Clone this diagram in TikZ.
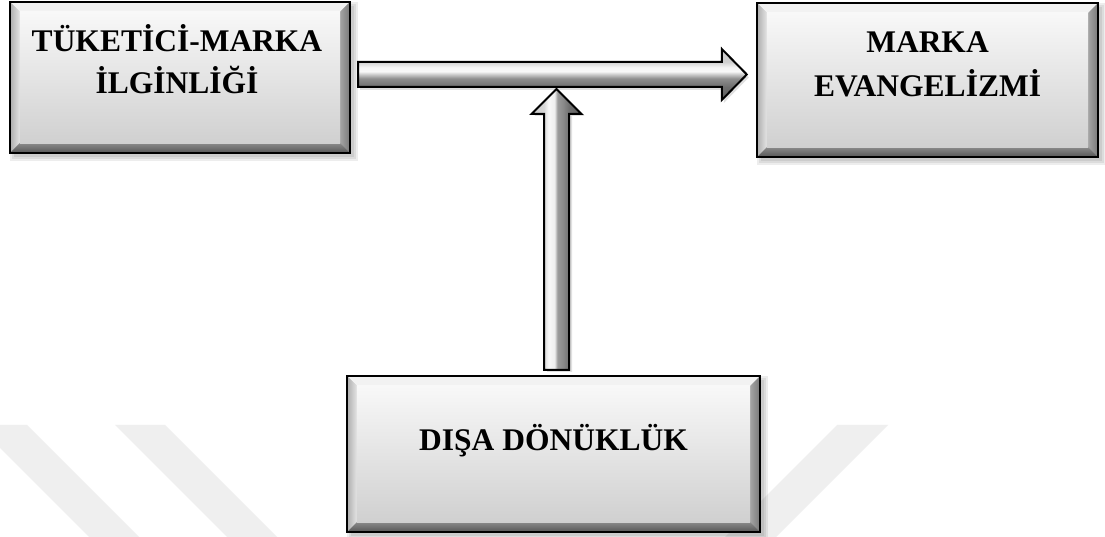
\documentclass[tikz,border=0pt]{standalone}
\usepackage{fontspec}
\setmainfont{Liberation Serif}
\usetikzlibrary{calc}
\definecolor{wm}{HTML}{EFEFEF}
\definecolor{c5a}{HTML}{5A5A5A}
\definecolor{c6e}{HTML}{6E6E6E}
\definecolor{c70}{HTML}{707070}
\definecolor{c88}{HTML}{888888}
\definecolor{c8e}{HTML}{8E8E8E}
\definecolor{c9a}{HTML}{9A9A9A}
\definecolor{cc8}{HTML}{C8C8C8}
\definecolor{cd0}{HTML}{D0D0D0}
\definecolor{cd8}{HTML}{D8D8D8}
\definecolor{cee}{HTML}{EEEEEE}
\definecolor{cf4}{HTML}{F4F4F4}
\definecolor{cf8}{HTML}{F8F8F8}
\definecolor{bevtop}{HTML}{F2F2F2}
\definecolor{bevlo}{HTML}{ACACAC}
\definecolor{bevli}{HTML}{E4E4E4}
\definecolor{bevri}{HTML}{A4A4A4}
\definecolor{bevro}{HTML}{787878}
\definecolor{bevbi}{HTML}{8A8A8A}
\definecolor{bevbo}{HTML}{555555}
\definecolor{facetop}{HTML}{F8F8F8}
\definecolor{facebot}{HTML}{D0D0D0}
\pgfdeclareverticalshading{harrowsh}{100bp}{color(0bp)=(c5a); color(25bp)=(c5a); color(37.7bp)=(c6e); color(46bp)=(c8e); color(50bp)=(cc8); color(53bp)=(cf8); color(57bp)=(cf4); color(62.3bp)=(cd0); color(75bp)=(cc8); color(100bp)=(cc8)}
\pgfdeclarehorizontalshading{varrowsh}{100bp}{color(0bp)=(cc8); color(25bp)=(cc8); color(37.5bp)=(cd8); color(42bp)=(cf8); color(48bp)=(cee); color(51bp)=(c9a); color(57bp)=(c88); color(62.5bp)=(c70); color(75bp)=(c5a); color(100bp)=(c5a)}
\tikzset{
  boxnode/.style={rectangle, inner sep=0pt},
  lbl/.style={font=\bfseries\fontsize{31.5}{42}\selectfont, align=center, inner sep=0pt, anchor=base},
  arrowline/.style={draw=black, line width=2pt, line join=miter},
  harrowpath/.style={insert path={($(hs)+(0,12.5)$) -- ($(ht)+(-25,12.5)$) -- ($(ht)+(-25,25.5)$) -- (ht) -- ($(ht)+(-25,-25.5)$) -- ($(ht)+(-25,-12.5)$) -- ($(hs)+(0,-12.5)$) -- cycle}},
  varrowpath/.style={insert path={($(vs)+(-12.5,0)$) -- ($(vt)+(-12.5,-25)$) -- ($(vt)+(-25,-25)$) -- (vt) -- ($(vt)+(25,-25)$) -- ($(vt)+(12.5,-25)$) -- ($(vs)+(12.5,0)$) -- cycle}}
}
\newcommand\bevelbox[1]{%
  \foreach \s in {0,2,4}{\fill[black,opacity=0.07] ($(#1.south west)+(4-\s,-4-\s)$) rectangle ($(#1.north east)+(4+\s,-4+\s)$);}
  \fill[bevtop] (#1.north west) -- (#1.north east) -- ($(#1.north east)+(-10,-10)$) -- ($(#1.north west)+(10,-10)$) -- cycle;
  \shade[left color=bevlo, right color=bevli] (#1.north west) -- ($(#1.north west)+(10,-10)$) -- ($(#1.south west)+(10,10)$) -- (#1.south west) -- cycle;
  \shade[left color=bevri, right color=bevro] (#1.north east) -- (#1.south east) -- ($(#1.south east)+(-10,10)$) -- ($(#1.north east)+(-10,-10)$) -- cycle;
  \shade[top color=bevbi, bottom color=bevbo] (#1.south west) -- ($(#1.south west)+(10,10)$) -- ($(#1.south east)+(-10,10)$) -- (#1.south east) -- cycle;
  \shade[top color=facetop, bottom color=facebot] ($(#1.south west)+(10,10)$) rectangle ($(#1.north east)+(-10,-10)$);
  \draw[line width=2.2pt] (#1.south west) rectangle (#1.north east);
}
\begin{document}
\begin{tikzpicture}[x=1pt,y=1pt]
\useasboundingbox (0,0) rectangle (1105,537);
\fill[white] (0,0) rectangle (1105,537);
% watermark bands
\begin{scope}
\clip (0,0) rectangle (1105,537);
\fill[wm] (-23,112) -- (27,112) -- (139,0) -- (89,0) -- cycle;
\fill[wm] (115,112) -- (165,112) -- (277,0) -- (227,0) -- cycle;
\fill[wm] (837,112) -- (888,112) -- (776,0) -- (725,0) -- cycle;
\end{scope}
% boxes
\node[boxnode, minimum width=340, minimum height=151] (b1) at (180,459.5) {};
\node[boxnode, minimum width=341, minimum height=154] (b2) at (927.5,457) {};
\node[boxnode, minimum width=413, minimum height=156] (b3) at (553.5,83) {};
\bevelbox{b1}
\bevelbox{b2}
\bevelbox{b3}
\node[lbl] (t1) at ($(b1.north)+(-3,-92)$) {TÜKETİCİ-MARKA\\İLGİNLİĞİ};
\node[lbl, font=\bfseries\fontsize{31.5}{44}\selectfont] (t2) at ($(b2.north)+(0,-94)$) {MARKA\\EVANGELİZMİ};
\node[lbl] (t3) at ($(b3.north)+(0,-75)$) {DIŞA DÖNÜKLÜK};
% arrows
\coordinate (hs) at ($(b1.east)+(8,3)$);
\coordinate (ht) at ($(hs -| b2.west)+(-10,0)$);
\coordinate (vs) at ($(b3.north)+(3,6)$);
\coordinate (vt) at ($(vs |- hs)+(0,-14.5)$);
\fill[black,opacity=0.12,transform canvas={shift={(2,-3)}}] [harrowpath];
\shade[shading=harrowsh, arrowline] [harrowpath];
\fill[black,opacity=0.12,transform canvas={shift={(3,-2)}}] [varrowpath];
\shade[shading=varrowsh, arrowline] [varrowpath];
\end{tikzpicture}
\end{document}
